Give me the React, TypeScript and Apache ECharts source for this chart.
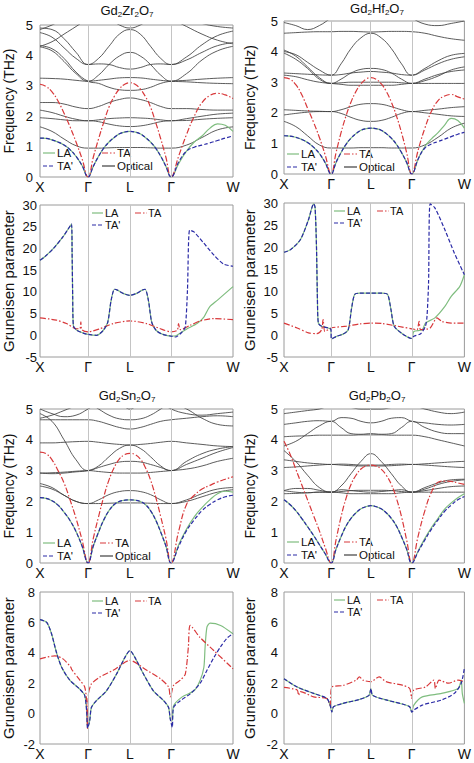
import React, { useEffect, useRef } from 'react';
import * as echarts from 'echarts';

const FONT = 'Liberation Sans, Arial, sans-serif';
const K_LABELS = ['X', 'Γ', 'L', 'Γ', 'W'];
const KPOS_LEFT = [0, 0.249, 0.466, 0.679, 1];
const KPOS_RIGHT = [0, 0.261, 0.482, 0.708, 1];

const C_LA = '#7fbd7f';
const C_TA = '#d8383a';
const C_TAP = '#2a2aa6';
const C_OPT = '#3e3e3e';

// ---------- Dispersion: acoustic branches (33 samples, X→Γ→L→Γ→W) ----------
const ZR_TA = [3.05, 2.98, 2.8, 2.5, 2.1, 1.65, 1.15, 0.6, 0, 0.65, 1.25, 1.8, 2.3, 2.65, 2.9, 3.05, 3.1, 3.05, 2.9, 2.65, 2.3, 1.8, 1.25, 0.65, 0, 0.7, 1.4, 2.0, 2.45, 2.68, 2.75, 2.7, 2.58];
const ZR_LA = [1.28, 1.27, 1.22, 1.15, 1.05, 0.9, 0.68, 0.38, 0, 0.35, 0.68, 0.95, 1.15, 1.3, 1.42, 1.48, 1.5, 1.48, 1.42, 1.3, 1.15, 0.95, 0.68, 0.35, 0, 0.45, 0.85, 1.15, 1.35, 1.6, 1.75, 1.7, 1.5];
const ZR_TAP = [1.28, 1.27, 1.22, 1.15, 1.05, 0.9, 0.68, 0.38, 0, 0.35, 0.68, 0.95, 1.15, 1.3, 1.42, 1.48, 1.5, 1.48, 1.42, 1.3, 1.15, 0.95, 0.68, 0.35, 0, 0.5, 0.85, 0.98, 1.05, 1.12, 1.2, 1.28, 1.35];

const HF_TA = [3.15, 3.1, 2.92, 2.6, 2.15, 1.7, 1.2, 0.62, 0, 0.7, 1.35, 1.9, 2.35, 2.7, 2.95, 3.1, 3.15, 3.1, 2.95, 2.7, 2.35, 1.9, 1.35, 0.7, 0, 0.8, 1.5, 2.05, 2.4, 2.55, 2.6, 2.52, 2.45];
const HF_LA = [1.25, 1.24, 1.2, 1.13, 1.03, 0.88, 0.67, 0.37, 0, 0.38, 0.7, 0.97, 1.17, 1.32, 1.43, 1.48, 1.5, 1.48, 1.43, 1.32, 1.17, 0.97, 0.7, 0.38, 0, 0.5, 0.9, 1.15, 1.35, 1.6, 1.82, 1.75, 1.5];
const HF_TAP = [1.25, 1.24, 1.2, 1.13, 1.03, 0.88, 0.67, 0.37, 0, 0.38, 0.7, 0.97, 1.17, 1.32, 1.43, 1.48, 1.5, 1.48, 1.43, 1.32, 1.17, 0.97, 0.7, 0.38, 0, 0.5, 0.85, 0.98, 1.06, 1.14, 1.22, 1.3, 1.36];

const SN_TA = [3.6, 3.55, 3.35, 3.0, 2.6, 2.05, 1.45, 0.75, 0, 0.8, 1.5, 2.15, 2.7, 3.1, 3.38, 3.52, 3.56, 3.52, 3.38, 3.1, 2.7, 2.15, 1.5, 0.8, 0, 1.05, 1.9, 2.2, 2.4, 2.52, 2.63, 2.72, 2.8];
const SN_LA = [2.12, 2.1, 2.02, 1.88, 1.65, 1.38, 1.02, 0.55, 0, 0.55, 1.0, 1.4, 1.7, 1.9, 2.0, 2.04, 2.05, 2.04, 2.0, 1.9, 1.7, 1.4, 1.0, 0.55, 0, 0.6, 1.1, 1.5, 1.8, 2.05, 2.25, 2.33, 2.3];
const SN_TAP = [2.12, 2.1, 2.02, 1.88, 1.65, 1.38, 1.02, 0.55, 0, 0.55, 1.0, 1.4, 1.7, 1.9, 2.0, 2.04, 2.05, 2.04, 2.0, 1.9, 1.7, 1.4, 1.0, 0.55, 0, 0.55, 1.05, 1.4, 1.7, 1.9, 2.05, 2.15, 2.2];

const PB_TA = [3.95, 3.55, 3.05, 2.55, 2.05, 1.55, 1.05, 0.5, 0, 0.75, 1.5, 2.1, 2.55, 2.85, 3.05, 3.15, 3.18, 3.15, 3.05, 2.85, 2.55, 2.1, 1.5, 0.75, 0, 0.9, 1.7, 2.3, 2.62, 2.66, 2.65, 2.6, 2.55];
const PB_LA = [2.05, 1.9, 1.7, 1.45, 1.18, 0.9, 0.6, 0.3, 0, 0.45, 0.85, 1.2, 1.45, 1.63, 1.76, 1.83, 1.86, 1.83, 1.76, 1.63, 1.45, 1.2, 0.85, 0.45, 0, 0.4, 0.8, 1.15, 1.45, 1.75, 1.95, 2.12, 2.25];
const PB_TAP = [2.05, 1.9, 1.7, 1.45, 1.18, 0.9, 0.6, 0.3, 0, 0.45, 0.85, 1.2, 1.45, 1.63, 1.76, 1.83, 1.86, 1.83, 1.76, 1.63, 1.45, 1.2, 0.85, 0.45, 0, 0.38, 0.75, 1.1, 1.4, 1.68, 1.88, 2.05, 2.16];

// ---------- Dispersion: optical branches (17 samples) ----------
const ZR_O1 = [1.65, 1.5, 1.25, 1.03, 0.95, 0.95, 0.96, 0.97, 0.97, 0.97, 0.96, 0.95, 0.95, 1.05, 1.3, 1.55, 1.65];
const ZR_O2 = [1.95, 1.92, 1.88, 1.85, 1.85, 1.82, 1.74, 1.68, 1.66, 1.68, 1.74, 1.82, 1.85, 1.86, 1.9, 1.93, 1.95];
const ZR_O3 = [2.2, 2.12, 2.0, 1.9, 1.85, 1.88, 1.92, 1.94, 1.95, 1.94, 1.92, 1.88, 1.85, 1.92, 2.0, 2.07, 2.1];
const ZR_O4 = [2.45, 2.45, 2.4, 2.3, 2.25, 2.32, 2.45, 2.55, 2.6, 2.55, 2.45, 2.32, 2.25, 2.25, 2.22, 2.2, 2.2];
const ZR_O5 = [3.25, 3.24, 3.22, 3.18, 3.15, 3.18, 3.22, 3.26, 3.27, 3.26, 3.22, 3.18, 3.15, 3.13, 3.1, 3.08, 3.07];
const ZR_O6 = [4.28, 4.15, 3.8, 3.4, 3.15, 3.35, 3.7, 3.98, 4.1, 3.98, 3.7, 3.35, 3.15, 3.4, 3.85, 4.15, 4.3];
const ZR_O7 = [4.32, 4.22, 3.9, 3.45, 3.15, 3.08, 2.95, 2.87, 2.85, 2.87, 2.95, 3.08, 3.15, 3.18, 3.22, 3.25, 3.27];
const ZR_O8 = [4.75, 4.6, 4.25, 3.9, 3.7, 3.72, 3.7, 3.6, 3.55, 3.6, 3.7, 3.72, 3.7, 3.85, 4.1, 4.32, 4.42];
const ZR_O9 = [4.9, 4.85, 4.55, 4.1, 3.7, 3.9, 4.3, 4.7, 4.85, 4.7, 4.3, 3.9, 3.7, 3.95, 4.35, 4.65, 4.8];
const ZR_O10 = [4.85, 5.0, 5.2, 5.3, 5.3, 5.3, 5.2, 5.0, 4.9, 5.0, 5.2, 5.3, 5.3, 5.2, 5.05, 4.95, 4.9];
const ZR_O11 = [4.3, 4.45, 4.7, 4.95, 5.2, 5.3, 5.3, 5.3, 5.3, 5.3, 5.3, 5.3, 5.2, 4.95, 4.7, 4.5, 4.38];

const HF_O1 = [1.72, 1.55, 1.25, 0.95, 0.85, 0.85, 0.85, 0.86, 0.86, 0.86, 0.85, 0.85, 0.85, 0.95, 1.2, 1.5, 1.66];
const HF_O2 = [1.93, 1.98, 2.02, 2.04, 2.04, 1.98, 1.85, 1.75, 1.72, 1.75, 1.85, 1.98, 2.04, 2.0, 1.95, 1.9, 1.88];
const HF_O3 = [2.1, 2.08, 2.06, 2.05, 2.04, 2.1, 2.2, 2.28, 2.3, 2.28, 2.2, 2.1, 2.04, 2.08, 2.12, 2.17, 2.2];
const HF_O4 = [3.23, 3.18, 3.08, 3.0, 2.96, 2.93, 2.9, 2.9, 2.9, 2.9, 2.9, 2.93, 2.96, 2.96, 2.96, 2.96, 2.96];
const HF_O5 = [4.0, 3.9, 3.65, 3.4, 3.23, 3.6, 4.1, 4.45, 4.6, 4.45, 4.1, 3.6, 3.23, 3.45, 3.7, 3.88, 3.94];
const HF_O6 = [4.05, 3.85, 3.5, 3.15, 2.96, 3.1, 3.3, 3.42, 3.45, 3.42, 3.3, 3.1, 2.96, 3.1, 3.25, 3.35, 3.4];
const HF_O7 = [4.6, 4.62, 4.64, 4.65, 4.65, 4.66, 4.66, 4.65, 4.64, 4.65, 4.66, 4.66, 4.65, 4.6, 4.5, 4.42, 4.37];
const HF_O8 = [3.3, 3.28, 3.26, 3.24, 3.23, 3.25, 3.3, 3.33, 3.35, 3.33, 3.3, 3.25, 3.23, 3.4, 3.6, 3.75, 3.83];
const HF_O9 = [4.95, 4.85, 4.72, 4.85, 5.1, 5.3, 5.3, 5.3, 5.3, 5.3, 5.3, 5.3, 5.1, 4.9, 4.85, 4.92, 5.0];
const HF_O10 = [3.95, 3.75, 3.45, 3.1, 2.96, 2.98, 3.0, 3.0, 3.0, 3.0, 3.0, 2.98, 2.96, 3.05, 3.2, 3.4, 3.5];

const SN_O1 = [2.5, 2.4, 2.2, 2.0, 1.93, 1.93, 1.94, 1.95, 1.95, 1.95, 1.94, 1.93, 1.93, 2.0, 2.15, 2.3, 2.38];
const SN_O2 = [2.58, 2.45, 2.2, 2.0, 1.93, 2.05, 2.22, 2.32, 2.35, 2.32, 2.22, 2.05, 1.93, 2.05, 2.25, 2.4, 2.45];
const SN_O3 = [2.92, 2.93, 2.95, 2.98, 3.0, 2.97, 2.94, 2.92, 2.92, 2.92, 2.94, 2.97, 3.0, 3.05, 3.15, 3.3, 3.4];
const SN_O4 = [3.9, 3.9, 3.92, 3.94, 3.95, 3.92, 3.88, 3.85, 3.83, 3.85, 3.88, 3.92, 3.95, 3.9, 3.85, 3.8, 3.78];
const SN_O5 = [4.85, 4.6, 4.0, 3.35, 3.0, 3.1, 3.2, 3.28, 3.3, 3.28, 3.2, 3.1, 3.0, 3.3, 3.55, 3.7, 3.78];
const SN_O6 = [4.65, 4.65, 4.65, 4.65, 4.65, 4.6, 4.5, 4.4, 4.35, 4.4, 4.5, 4.6, 4.65, 4.7, 4.75, 4.78, 4.75];
const SN_O7 = [5.0, 4.85, 4.75, 4.8, 5.0, 5.2, 5.3, 5.2, 5.0, 5.2, 5.3, 5.2, 5.0, 4.85, 4.8, 4.85, 4.9];
const SN_O8 = [2.92, 2.9, 2.92, 2.96, 3.0, 3.15, 3.45, 3.72, 3.83, 3.72, 3.45, 3.15, 3.0, 3.2, 3.4, 3.6, 3.75];
const SN_O9 = [4.7, 4.8, 4.95, 5.1, 5.2, 5.0, 4.8, 4.68, 4.65, 4.68, 4.8, 5.0, 5.2, 5.0, 4.7, 4.5, 4.45];

const PB_O1 = [2.25, 2.26, 2.28, 2.3, 2.3, 2.28, 2.25, 2.25, 2.25, 2.25, 2.25, 2.28, 2.3, 2.3, 2.3, 2.3, 2.3];
const PB_O2 = [2.35, 2.42, 2.42, 2.36, 2.3, 2.5, 2.9, 3.3, 3.55, 3.3, 2.9, 2.5, 2.3, 2.4, 2.55, 2.65, 2.7];
const PB_O3 = [3.1, 3.12, 3.15, 3.18, 3.2, 3.18, 3.16, 3.15, 3.15, 3.15, 3.16, 3.18, 3.2, 3.18, 3.15, 3.12, 3.1];
const PB_O4 = [3.35, 3.3, 3.25, 3.22, 3.2, 3.21, 3.2, 3.18, 3.18, 3.18, 3.2, 3.21, 3.2, 3.22, 3.25, 3.28, 3.3];
const PB_O5 = [3.65, 3.3, 2.85, 2.45, 2.3, 2.38, 2.35, 2.32, 2.3, 2.32, 2.35, 2.38, 2.3, 2.35, 2.42, 2.48, 2.5];
const PB_O6 = [4.1, 4.12, 4.13, 4.15, 4.15, 4.15, 4.15, 4.16, 4.16, 4.16, 4.15, 4.15, 4.15, 4.1, 4.0, 3.9, 3.8];
const PB_O7 = [4.5, 4.55, 4.6, 4.62, 4.6, 4.72, 4.7, 4.6, 4.55, 4.6, 4.7, 4.72, 4.6, 4.55, 4.5, 4.48, 4.5];
const PB_O8 = [4.85, 4.9, 4.95, 5.0, 5.1, 5.1, 5.05, 5.0, 5.0, 5.0, 5.05, 5.1, 5.1, 5.0, 4.9, 4.85, 4.9];
const PB_O9 = [3.8, 3.95, 4.2, 4.45, 4.6, 4.4, 4.2, 4.18, 4.2, 4.18, 4.2, 4.4, 4.6, 4.4, 4.25, 4.2, 4.2];
const PB_O10 = [2.35, 2.3, 2.28, 2.3, 2.3, 2.32, 2.35, 2.36, 2.36, 2.36, 2.35, 2.32, 2.3, 2.45, 2.6, 2.7, 2.72];

// ---------- Gruneisen parameters: [path position (X=0, Γ=1, L=2, Γ=3, W=4), value] ----------
const ZR_G_SHARED = [[0, 17.3], [0.1, 18.1], [0.28, 20.0], [0.48, 22.7], [0.655, 25.6], [0.668, 19], [0.68, 9], [0.695, 2.2], [0.76, 1.2], [0.9, 0.5], [1.0, 0.2], [1.2, 0.0], [1.36, 1.1], [1.47, 3.0], [1.55, 8.0], [1.63, 10.6], [1.7, 10.4], [1.85, 9.6], [2.0, 9.2], [2.15, 9.6], [2.3, 10.4], [2.37, 10.6], [2.45, 8.0], [2.53, 3.0], [2.64, 1.1], [2.8, 0.2], [3.0, -0.2]];
const ZR_G_LA_TAIL = [[3.08, -0.1], [3.18, 0.8], [3.26, 1.5], [3.42, 2.7], [3.53, 4.2], [3.62, 6.5], [3.75, 8.1], [4.0, 11.2]];
const ZR_G_TAP_TAIL = [[3.07, -0.4], [3.18, 0.8], [3.23, 1.9], [3.265, 10.4], [3.3, 24.2], [3.37, 23.8], [3.53, 21.2], [3.69, 18.5], [3.85, 16.4], [4.0, 15.9]];
const ZR_G_TA = [[0, 4.0], [0.34, 3.5], [0.55, 2.7], [0.76, 1.5], [0.83, 1.5], [0.85, 3.1], [0.87, 1.3], [1.0, 0.8], [1.28, 1.5], [1.6, 2.7], [2.0, 3.3], [2.41, 2.7], [2.74, 1.5], [3.0, 0.8], [3.1, 1.15], [3.12, 2.7], [3.15, 1.3], [3.31, 2.3], [3.47, 3.3], [3.69, 3.85], [4.0, 3.6]];

const HF_G_SHARED = [[0, 18.8], [0.14, 19.4], [0.35, 21.7], [0.52, 26.2], [0.63, 29.8], [0.66, 29], [0.69, 20], [0.71, 8], [0.73, 2.7], [0.8, 2.0], [0.94, 1.6], [0.995, 1.3], [1.01, -0.9], [1.14, -0.3], [1.3, 0.2], [1.43, 1.2], [1.51, 5.8], [1.59, 9.2], [1.71, 9.5], [2.0, 9.5], [2.28, 9.5], [2.41, 9.2], [2.49, 5.8], [2.57, 2.0], [2.77, 0.3], [3.0, -0.8]];
const HF_G_LA_TAIL = [[3.04, 0.8], [3.2, 1.2], [3.26, 2.7], [3.44, 3.9], [3.63, 6.5], [3.75, 8.8], [3.91, 11], [4.0, 13.7]];
const HF_G_TAP_TAIL = [[3.04, -0.3], [3.17, 0.3], [3.26, 2.0], [3.29, 4.2], [3.32, 12], [3.35, 29.8], [3.44, 28.9], [3.63, 23.9], [3.81, 18.6], [4.0, 13.7]];
const HF_G_TA = [[0, 2.7], [0.28, 1.6], [0.52, 0.5], [0.7, 0.3], [0.8, 1.2], [0.83, 3.5], [0.87, 0.8], [1.0, 1.6], [1.39, 2.0], [1.71, 2.5], [2.0, 2.7], [2.28, 2.6], [2.77, 1.8], [3.0, 1.4], [3.1, 1.2], [3.14, 3.1], [3.17, 1.2], [3.35, 1.6], [3.48, 3.9], [3.57, 3.1], [3.75, 2.7], [4.0, 2.7]];

const SN_G_SHARED = [[0, 6.18], [0.14, 6.0], [0.24, 5.25], [0.34, 4.05], [0.45, 3.05], [0.62, 2.2], [0.83, 1.6], [0.93, 1.2], [0.97, 0.2], [0.99, -0.95], [1.04, -0.45], [1.08, 0.4], [1.2, 0.85], [1.44, 1.5], [1.68, 2.6], [1.88, 3.7], [2.0, 4.15], [2.12, 3.7], [2.33, 2.6], [2.57, 1.5], [2.82, 0.85], [2.94, 0.4], [2.98, -0.35]];
const SN_G_LA_TAIL = [[3.02, -0.45], [3.04, 0.5], [3.18, 1.1], [3.37, 1.5], [3.47, 2.2], [3.53, 3.05], [3.55, 4.4], [3.58, 5.7], [3.63, 5.95], [3.8, 5.8], [4.0, 5.25]];
const SN_G_TAP_TAIL = [[3.02, -0.9], [3.04, 0.4], [3.15, 0.85], [3.31, 1.3], [3.47, 2.0], [3.58, 2.85], [3.7, 3.75], [3.8, 4.4], [3.9, 4.95], [4.0, 5.25]];
const SN_G_TA = [[0, 3.6], [0.31, 3.8], [0.48, 3.6], [0.64, 3.05], [0.66, 2.9], [0.83, 2.2], [0.93, 1.75], [0.97, 0.85], [0.99, -1.0], [1.01, 1.3], [1.08, 1.95], [1.28, 2.4], [1.6, 2.85], [2.0, 3.5], [2.41, 2.85], [2.74, 2.3], [2.94, 1.75], [2.98, 1.1], [3.0, 1.2], [3.04, 1.85], [3.15, 2.2], [3.23, 2.6], [3.28, 4.4], [3.31, 5.8], [3.47, 5.0], [3.69, 4.15], [4.0, 2.95]];

const PB_G_SHARED = [[0, 2.3], [0.28, 1.75], [0.63, 1.33], [0.91, 1.0], [0.98, 0.55], [1.02, 0.1], [1.06, 0.45], [1.3, 0.67], [1.71, 0.93], [1.95, 1.2], [2.0, 1.65], [2.04, 1.2], [2.37, 0.9], [2.77, 0.63], [2.95, 0.45], [3.0, 0.1]];
const PB_G_LA_TAIL = [[3.04, 0.56], [3.2, 1.1], [3.57, 1.33], [3.88, 1.65], [3.94, 2.2], [3.96, 1.33], [4.0, 0.67]];
const PB_G_TAP_TAIL = [[3.04, 0.23], [3.2, 0.56], [3.57, 0.9], [3.81, 1.33], [3.94, 2.0], [4.0, 3.0]];
const PB_G_TA = [[0, 1.72], [0.28, 1.55], [0.31, 1.2], [0.35, 1.45], [0.63, 1.1], [0.91, 0.99], [0.98, 0.55], [1.02, 1.75], [1.3, 1.85], [1.63, 2.2], [1.71, 2.42], [1.8, 2.2], [2.0, 2.1], [2.2, 2.42], [2.37, 2.1], [2.77, 1.87], [2.95, 1.65], [3.0, 1.0], [3.04, 1.55], [3.26, 1.75], [3.42, 2.2], [3.45, 1.65], [3.52, 2.2], [3.7, 2.0], [3.88, 2.2], [4.0, 2.1]];

// ---------- layout ----------
const GRIDS = [
  { left: 40, top: 25, width: 193, height: 152 },
  { left: 284, top: 21, width: 183, height: 153 },
  { left: 40, top: 205, width: 193, height: 152 },
  { left: 284, top: 203, width: 183, height: 154 },
  { left: 40, top: 409, width: 193, height: 154 },
  { left: 284, top: 409, width: 183, height: 154 },
  { left: 40, top: 592, width: 193, height: 152 },
  { left: 284, top: 592, width: 182, height: 152 },
];

function uToX(u: number, kpos: number[]) {
  const s = Math.min(3, Math.floor(u));
  const t = u - s;
  return kpos[s] + t * (kpos[s + 1] - kpos[s]);
}

const DASH_TA = [6, 2, 1.5, 2];
const DASH_TAP = [4, 2];

function dispLine(arr: number[], gi: number, kpos: number[], color: string, width: number, type: any, z: number) {
  const step = 4 / (arr.length - 1);
  return {
    type: 'line', xAxisIndex: gi, yAxisIndex: gi, silent: true, z,
    data: arr.map((v, i) => [uToX(i * step, kpos), v]),
    symbol: 'none', showSymbol: false, smooth: 0.45,
    lineStyle: { color, width, type },
  };
}

function gruLine(pts: number[][], gi: number, kpos: number[], color: string, width: number, type: any, z: number) {
  return {
    type: 'line', xAxisIndex: gi, yAxisIndex: gi, silent: true, z,
    data: pts.map((p) => [uToX(p[0], kpos), p[1]]),
    symbol: 'none', showSymbol: false, smooth: 0.25,
    lineStyle: { color, width, type },
  };
}

function vLines(gi: number, kpos: number[]) {
  return {
    type: 'line', xAxisIndex: gi, yAxisIndex: gi, silent: true, z: 1, data: [],
    markLine: {
      silent: true, symbol: ['none', 'none'], label: { show: false }, animation: false,
      lineStyle: { color: '#c4c4c4', width: 1, type: 'solid' },
      data: [{ xAxis: kpos[1] }, { xAxis: kpos[2] }, { xAxis: kpos[3] }],
    },
  };
}

function legendGraphics(items: { x1: number; x2: number; tx: number; y: number; label: string; color: string; dash: any }[], fs: number) {
  const out: any[] = [];
  items.forEach((it) => {
    out.push({
      type: 'line', silent: true,
      shape: { x1: it.x1, y1: it.y, x2: it.x2, y2: it.y },
      style: { stroke: it.color, lineWidth: 1.2, lineDash: it.dash },
    });
    out.push({
      type: 'text', silent: true, x: it.tx, y: it.y,
      style: { text: it.label, fill: '#111', fontSize: fs, fontFamily: FONT, verticalAlign: 'middle', align: 'left' },
    });
  });
  return out;
}

function dispLegend(x: number, y: number, dx: number) {
  return legendGraphics([
    { x1: x, x2: x + 12, tx: x + 14, y, label: 'LA', color: C_LA, dash: null },
    { x1: x + dx, x2: x + dx + 13, tx: x + dx + 15, y, label: 'TA', color: C_TA, dash: DASH_TA },
    { x1: x, x2: x + 12, tx: x + 14, y: y + 13, label: "TA'", color: C_TAP, dash: DASH_TAP },
    { x1: x + dx, x2: x + dx + 13, tx: x + dx + 15, y: y + 13, label: 'Optical', color: C_OPT, dash: null },
  ], 11.5);
}

function gruLegend(x: number, y: number, dx: number) {
  return legendGraphics([
    { x1: x, x2: x + 11, tx: x + 13, y, label: 'LA', color: C_LA, dash: null },
    { x1: x + dx, x2: x + dx + 12, tx: x + dx + 13, y, label: 'TA', color: C_TA, dash: DASH_TA },
    { x1: x, x2: x + 11, tx: x + 13, y: y + 12, label: "TA'", color: C_TAP, dash: DASH_TAP },
  ], 11);
}

function buildOption() {
  const panels = [
    { g: 0, kind: 'disp', kpos: KPOS_LEFT, opt: [ZR_O1, ZR_O2, ZR_O3, ZR_O4, ZR_O5, ZR_O6, ZR_O7, ZR_O8, ZR_O9, ZR_O10, ZR_O11], la: ZR_LA, ta: ZR_TA, tap: ZR_TAP, lm: 7, ng: 24 },
    { g: 1, kind: 'disp', kpos: KPOS_RIGHT, opt: [HF_O1, HF_O2, HF_O3, HF_O4, HF_O5, HF_O6, HF_O7, HF_O8, HF_O9, HF_O10], la: HF_LA, ta: HF_TA, tap: HF_TAP, lm: 6, ng: 27 },
    { g: 2, kind: 'gru', kpos: KPOS_LEFT, la: ZR_G_SHARED.concat(ZR_G_LA_TAIL), tap: ZR_G_SHARED.concat(ZR_G_TAP_TAIL), ta: ZR_G_TA, lm: 3, ng: 24, min: -5, max: 30, step: 5 },
    { g: 3, kind: 'gru', kpos: KPOS_RIGHT, la: HF_G_SHARED.concat(HF_G_LA_TAIL), tap: HF_G_SHARED.concat(HF_G_TAP_TAIL), ta: HF_G_TA, lm: 6, ng: 27, min: -5, max: 30, step: 5 },
    { g: 4, kind: 'disp', kpos: KPOS_LEFT, opt: [SN_O1, SN_O2, SN_O3, SN_O4, SN_O5, SN_O6, SN_O7, SN_O8, SN_O9], la: SN_LA, ta: SN_TA, tap: SN_TAP, lm: 7, ng: 24 },
    { g: 5, kind: 'disp', kpos: KPOS_RIGHT, opt: [PB_O1, PB_O2, PB_O3, PB_O4, PB_O5, PB_O6, PB_O7, PB_O8, PB_O9, PB_O10], la: PB_LA, ta: PB_TA, tap: PB_TAP, lm: 6, ng: 27 },
    { g: 6, kind: 'gru', kpos: KPOS_LEFT, la: SN_G_SHARED.concat(SN_G_LA_TAIL), tap: SN_G_SHARED.concat(SN_G_TAP_TAIL), ta: SN_G_TA, lm: 5, ng: 24, min: -2, max: 8, step: 2 },
    { g: 7, kind: 'gru', kpos: KPOS_RIGHT, la: PB_G_SHARED.concat(PB_G_LA_TAIL), tap: PB_G_SHARED.concat(PB_G_TAP_TAIL), ta: PB_G_TA, lm: 6, ng: 27, min: -2, max: 8, step: 2 },
  ];

  const grid = GRIDS.map((g) => ({ ...g, show: true, borderColor: '#9a9a9a', borderWidth: 1, backgroundColor: 'transparent', containLabel: false }));
  const xAxis: any[] = [];
  const yAxis: any[] = [];
  const series: any[] = [];

  panels.forEach((p: any) => {
    const kpos = p.kpos;
    xAxis.push({
      gridIndex: p.g, type: 'value', min: 0, max: 1,
      axisLine: { show: false }, axisTick: { show: false, customValues: kpos }, splitLine: { show: false },
      axisLabel: {
        customValues: kpos, margin: 3, fontSize: 14, color: '#111', fontFamily: FONT, hideOverlap: false,
        formatter: (v: number) => {
          let best = 0;
          kpos.forEach((k: number, i: number) => { if (Math.abs(k - v) < Math.abs(kpos[best] - v)) best = i; });
          return K_LABELS[best];
        },
      },
    });
    const isDisp = p.kind === 'disp';
    yAxis.push({
      gridIndex: p.g, type: 'value',
      min: isDisp ? 0 : p.min, max: isDisp ? 5 : p.max, interval: isDisp ? 1 : p.step,
      name: isDisp ? 'Frequency (THz)' : 'Gruneisen parameter',
      nameLocation: 'middle', nameGap: p.ng,
      nameTextStyle: { fontSize: isDisp ? 14 : 15, color: '#111', fontFamily: FONT },
      axisLine: { show: false }, axisTick: { show: false }, splitLine: { show: false },
      axisLabel: { margin: p.lm, fontSize: 13, color: '#111', fontFamily: FONT },
    });
    series.push(vLines(p.g, kpos));
    if (isDisp) {
      p.opt.forEach((arr: number[]) => series.push(dispLine(arr, p.g, kpos, C_OPT, 0.85, 'solid', 2)));
      series.push(dispLine(p.la, p.g, kpos, C_LA, 1.2, 'solid', 3));
      series.push(dispLine(p.ta, p.g, kpos, C_TA, 1.2, DASH_TA, 4));
      series.push(dispLine(p.tap, p.g, kpos, C_TAP, 1.2, DASH_TAP, 5));
    } else {
      series.push(gruLine(p.la, p.g, kpos, C_LA, 1.2, 'solid', 3));
      series.push(gruLine(p.ta, p.g, kpos, C_TA, 1.2, DASH_TA, 4));
      series.push(gruLine(p.tap, p.g, kpos, C_TAP, 1.2, DASH_TAP, 5));
    }
  });

  const titleStyle = {
    fontSize: 13, fontWeight: 'normal', color: '#111', fontFamily: FONT,
    rich: { s: { fontSize: 8, color: '#111', fontFamily: FONT, padding: [7, 0, 0, 0] } },
  };
  const title = [
    { text: 'Gd{s|2}Zr{s|2}O{s|7}', left: 127, top: 3, textAlign: 'center', padding: 0, textStyle: titleStyle },
    { text: 'Gd{s|2}Hf{s|2}O{s|7}', left: 377, top: 1, textAlign: 'center', padding: 0, textStyle: titleStyle },
    { text: 'Gd{s|2}Sn{s|2}O{s|7}', left: 127, top: 388, textAlign: 'center', padding: 0, textStyle: titleStyle },
    { text: 'Gd{s|2}Pb{s|2}O{s|7}', left: 377, top: 388, textAlign: 'center', padding: 0, textStyle: titleStyle },
  ];

  const graphic = [
    ...dispLegend(43, 153, 59),
    ...dispLegend(287, 154, 57),
    ...dispLegend(43, 543, 57),
    ...dispLegend(287, 542, 57),
    ...gruLegend(92, 213, 43),
    ...gruLegend(334, 211, 43),
    ...gruLegend(92, 601, 43),
    ...gruLegend(334, 600, 43),
  ];

  return {
    animation: false,
    backgroundColor: '#ffffff',
    textStyle: { fontFamily: FONT },
    title, grid, xAxis, yAxis, series, graphic,
  };
}

export default function App() {
  const ref = useRef<HTMLDivElement | null>(null);
  useEffect(() => {
    if (!ref.current) return;
    const chart = echarts.init(ref.current, undefined, { renderer: 'svg' });
    chart.setOption(buildOption() as any);
    return () => chart.dispose();
  }, []);
  return <div ref={ref} style={{ position: 'absolute', left: 0, top: 0, width: 474, height: 763 }} />;
}
